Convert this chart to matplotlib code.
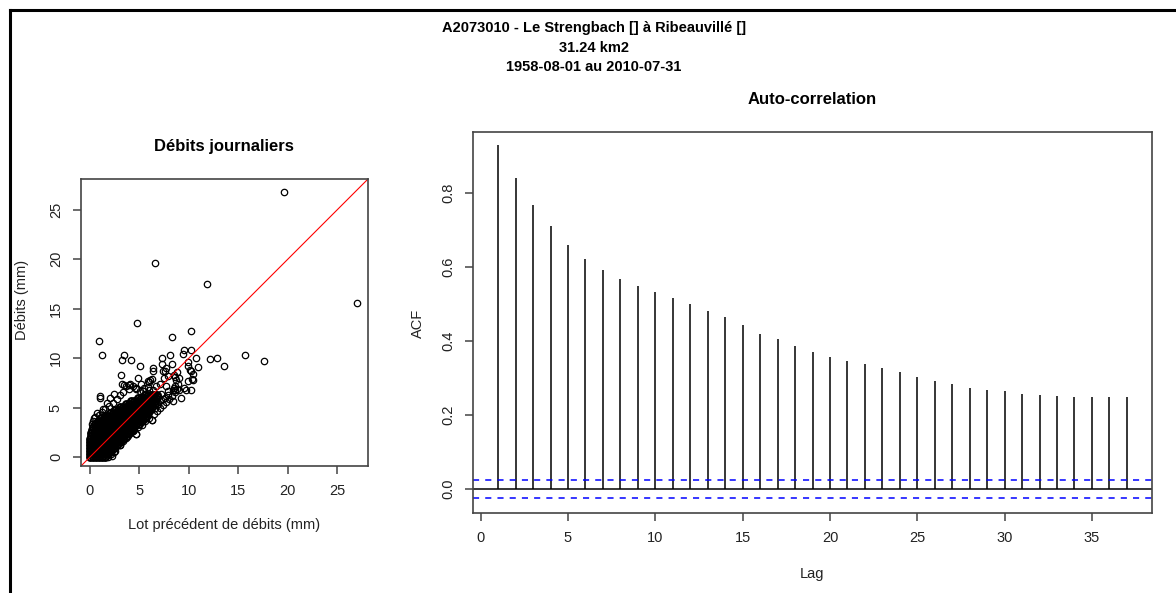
import matplotlib
matplotlib.use("Agg")
import matplotlib.pyplot as plt
from matplotlib.lines import Line2D

plt.rcParams['font.family'] = ['Liberation Sans', 'DejaVu Sans']

# --- donnees ---
titre = ["A2073010 - Le Strengbach [] à Ribeauvillé []", "31.24 km2", "1958-08-01 au 2010-07-31"]

# nuage dense (par rangees de debits)
nuage_y = [0.0, 0.3, 0.6, 0.9, 1.2, 1.5, 1.8, 2.1, 2.4, 2.7, 3.0, 3.3, 3.6, 3.9, 4.2, 4.5, 4.8, 5.1, 5.4, 5.7, 6.0, 6.3]
nuage_x = [
    [0.0, 0.3, 0.6, 0.9, 1.2, 1.5],
    [0.0, 0.3, 0.6, 0.9, 1.2, 1.5, 1.8],
    [0.0, 0.3, 0.6, 0.9, 1.2, 1.5, 1.8, 2.1],
    [0.0, 0.3, 0.6, 0.9, 1.2, 1.5, 1.8, 2.1, 2.4],
    [0.0, 0.3, 0.6, 0.9, 1.2, 1.5, 1.8, 2.1, 2.4, 2.7],
    [0.0, 0.3, 0.6, 0.9, 1.2, 1.5, 1.8, 2.1, 2.4, 2.7, 3.0],
    [0.0, 0.3, 0.6, 0.9, 1.2, 1.5, 1.8, 2.1, 2.4, 2.7, 3.0, 3.3],
    [0.1, 0.4, 0.7, 1.0, 1.3, 1.6, 1.9, 2.2, 2.5, 2.8, 3.1, 3.4, 3.7],
    [0.1, 0.4, 0.7, 1.0, 1.3, 1.6, 1.9, 2.2, 2.5, 2.8, 3.1, 3.4, 3.7, 4.0],
    [0.2, 0.5, 0.8, 1.1, 1.4, 1.7, 2.0, 2.3, 2.6, 2.9, 3.2, 3.5, 3.8, 4.1, 4.4],
    [0.3, 0.6, 0.9, 1.2, 1.5, 1.8, 2.1, 2.4, 2.7, 3.0, 3.3, 3.6, 3.9, 4.2, 4.5],
    [0.5, 0.8, 1.1, 1.4, 1.7, 2.0, 2.3, 2.6, 2.9, 3.2, 3.5, 3.8, 4.1, 4.4, 4.7, 5.0],
    [0.8, 1.1, 1.4, 1.7, 2.0, 2.3, 2.6, 2.9, 3.2, 3.5, 3.8, 4.1, 4.4, 4.7, 5.0, 5.3],
    [1.1, 1.4, 1.7, 2.0, 2.3, 2.6, 2.9, 3.2, 3.5, 3.8, 4.1, 4.4, 4.7, 5.0, 5.3, 5.6],
    [1.5, 1.8, 2.1, 2.4, 2.7, 3.0, 3.3, 3.6, 3.9, 4.2, 4.5, 4.8, 5.1, 5.4, 5.7],
    [2.0, 2.3, 2.6, 2.9, 3.2, 3.5, 3.8, 4.1, 4.4, 4.7, 5.0, 5.3, 5.6, 5.9],
    [2.5, 2.8, 3.1, 3.4, 3.7, 4.0, 4.3, 4.6, 4.9, 5.2, 5.5, 5.8, 6.1],
    [3.0, 3.3, 3.6, 3.9, 4.2, 4.5, 4.8, 5.1, 5.4, 5.7, 6.0, 6.3],
    [3.6, 3.9, 4.2, 4.5, 4.8, 5.1, 5.4, 5.7, 6.0, 6.3, 6.6],
    [4.2, 4.5, 4.8, 5.1, 5.4, 5.7, 6.0, 6.3, 6.6],
    [4.9, 5.2, 5.5, 5.8, 6.1, 6.4, 6.7],
    [5.6, 5.9, 6.2, 6.5, 6.8],
]

# points isoles autour du nuage
bord_x = [0.2, 0.3, 0.4, 0.5, 0.7, 0.9, 1.2, 1.3, 1.5, 1.7, 1.9, 2.0, 2.3, 2.4, 2.7, 3.0, 3.3, 3.6, 3.9,
          4.4, 4.7, 5.2, 5.5, 6.0, 6.3,
          1.8, 2.1, 2.2, 2.4, 2.5, 3.0, 3.3, 3.6, 4.0, 4.4, 4.7, 4.9, 5.3, 5.6, 6.0, 6.3, 6.5,
          6.8, 7.1, 7.4, 7.7, 8.0, 8.3, 8.6, 8.5, 8.8, 9.0, 9.5, 9.9, 7.6, 7.9, 6.9, 7.2, 6.6,
          6.0, 6.3, 6.7, 8.6, 8.7, 8.5, 8.8]
bord_y = [3.3, 3.6, 3.9, 4.1, 4.5, 4.3, 4.6, 4.9, 4.9, 5.5, 5.2, 6.0, 5.5, 6.4, 5.9, 6.3, 6.6, 7.2, 6.9,
          7.2, 6.9, 7.4, 7.0, 7.6, 7.9,
          0.0, 0.3, 0.1, 0.5, 0.6, 1.2, 1.6, 1.9, 2.3, 2.6, 2.3, 3.0, 3.2, 3.6, 3.9, 3.7, 4.4,
          4.7, 5.0, 5.3, 5.6, 5.9, 6.2, 6.6, 7.0, 6.9, 6.8, 7.0, 7.7, 6.0, 6.3, 5.4, 5.8, 5.0,
          5.0, 5.5, 6.0, 7.2, 7.8, 8.3, 8.6]

# valeurs extremes
ext_x = [19.6, 6.57, 11.8, 27.0, 4.78, 10.2, 8.3, 0.88, 1.2, 3.47, 3.23, 4.2, 5.1, 6.4, 6.4, 7.3, 8.1,
         7.3, 8.3, 9.4, 9.5, 10.2, 10.7, 12.1, 12.8, 13.5, 15.7, 17.6, 10.9, 9.9, 10.2, 10.4, 10.4,
         10.2, 9.7, 9.2, 8.4, 3.1, 4.9, 5.9, 3.2, 4.1, 1.0, 1.0, 6.3, 4.7, 3.0, 8.9, 8.6, 9.0, 7.9,
         7.4, 7.7, 6.0, 6.7, 5.4, 4.7, 7.1, 7.2, 6.5, 7.9, 7.4, 7.6, 8.6, 7.5, 6.1, 4.0, 3.4,
         5.9, 6.4, 7.7, 5.05, 5.55, 6.9, 8.4, 9.9, 10.1, 10.3]
ext_y = [26.8, 19.6, 17.5, 15.6, 13.5, 12.7, 12.1, 11.7, 10.3, 10.3, 9.8, 9.8, 9.2, 9.0, 8.7, 10.0,
         10.3, 9.4, 9.4, 10.4, 10.8, 10.8, 10.0, 9.9, 10.0, 9.2, 10.3, 9.7, 9.1, 9.2, 8.7, 7.8, 8.4,
         6.8, 6.8, 6.0, 5.7, 8.3, 8.0, 7.7, 7.4, 7.4, 6.2, 6.0, 3.7, 2.3, 1.2, 7.4, 6.8, 8.0, 8.2,
         8.7, 9.0, 6.8, 7.2, 6.7, 7.0, 7.4, 6.4, 6.0, 6.7, 5.9, 8.7, 8.1, 8.0, 7.8, 7.3, 7.3,
         7.1, 6.8, 7.2, 6.7, 6.4, 6.05, 6.8, 9.6, 8.8, 7.9]

# auto-correlation (lag 1 a 37)
lags = list(range(1, 38))
acf = [0.929, 0.840, 0.767, 0.711, 0.659, 0.621, 0.592, 0.567, 0.548, 0.532,
       0.515, 0.499, 0.482, 0.465, 0.443, 0.420, 0.405, 0.386, 0.369, 0.357,
       0.346, 0.338, 0.328, 0.315, 0.303, 0.293, 0.283, 0.274, 0.268, 0.264,
       0.258, 0.255, 0.252, 0.248, 0.248, 0.248, 0.248]
ic = 0.025

W, H = 1176, 593
fig = plt.figure(figsize=(W / 100, H / 100), dpi=100)

def fx(px):
    return px / W

def fy(py):
    return 1 - py / H

# cadre noir (haut et gauche)
fig.add_artist(Line2D([fx(10), 1], [fy(10), fy(10)], color='black', lw=2.2))
fig.add_artist(Line2D([fx(10), fx(10)], [fy(10), 0], color='black', lw=2.2))

for i, ligne in enumerate(titre):
    fig.text(fx(594), fy(28 + 19.5 * i), ligne, ha='center', va='center', fontsize=10.5, fontweight='bold')

def style(ax):
    for s in ax.spines.values():
        s.set_color('#444444')
        s.set_linewidth(1.2)
    ax.tick_params(direction='out', length=6, width=1.1, color='#444444', labelsize=10.5,
                   labelcolor='#222222')
    ax.tick_params(axis='x', pad=7)
    ax.tick_params(axis='y', pad=7)
    for lab in ax.get_yticklabels():
        lab.set_rotation(90)
        lab.set_va('center')

# --- nuage de points ---
ax1 = fig.add_axes([fx(81), fy(466), fx(368) - fx(81), fy(179) - fy(466)])
xs, ys = [], []
for yv, row in zip(nuage_y, nuage_x):
    for xv in row:
        xs.append(xv)
        ys.append(yv)
# le coeur du nuage est tres dense : traits plus epais pour le noircir
ax1.plot(xs, ys, 'o', mfc='none', mec='black', ms=4.8, mew=1.6)
ax1.plot(bord_x + ext_x, bord_y + ext_y, 'o', mfc='none', mec='black', ms=4.6, mew=0.9)
ax1.axline((0, 0), slope=1, color='red', lw=0.8)
ax1.set_xlim(-0.9, 28.1)
ax1.set_ylim(-0.9, 28.1)
ax1.set_xticks([0, 5, 10, 15, 20, 25])
ax1.set_yticks([0, 5, 10, 15, 20, 25])
style(ax1)
fig.text(fx(224), fy(146), "Débits journaliers", ha='center', va='center', fontsize=12, fontweight='bold')
fig.text(fx(224), fy(525), "Lot précédent de débits (mm)", ha='center', va='center', fontsize=10.5, color='#222222')
fig.text(fx(22), fy(300), "Débits (mm)", ha='center', va='center', rotation=90, fontsize=10.5, color='#222222')

# --- auto-correlation ---
ax2 = fig.add_axes([fx(473), fy(513), fx(1152) - fx(473), fy(132) - fy(513)])
ax2.vlines(lags, 0, acf, color='black', lw=1.1)
ax2.axhline(0, color='black', lw=1.1)
ax2.axhline(ic, color='blue', lw=1.1, ls=(0, (4, 4)))
ax2.axhline(-ic, color='blue', lw=1.1, ls=(0, (4, 4)))
ax2.set_xlim(-0.44, 38.44)
ax2.set_ylim(-0.065, 0.965)
ax2.set_xticks([0, 5, 10, 15, 20, 25, 30, 35])
ax2.set_yticks([0.0, 0.2, 0.4, 0.6, 0.8])
ax2.set_yticklabels(["0.0", "0.2", "0.4", "0.6", "0.8"])
style(ax2)
fig.text(fx(812), fy(99), "Auto-correlation", ha='center', va='center', fontsize=12, fontweight='bold')
fig.text(fx(812), fy(574), "Lag", ha='center', va='center', fontsize=10.5, color='#222222')
fig.text(fx(418), fy(323), "ACF", ha='center', va='center', rotation=90, fontsize=10.5, color='#222222')

fig.savefig("out.png", dpi=100)
